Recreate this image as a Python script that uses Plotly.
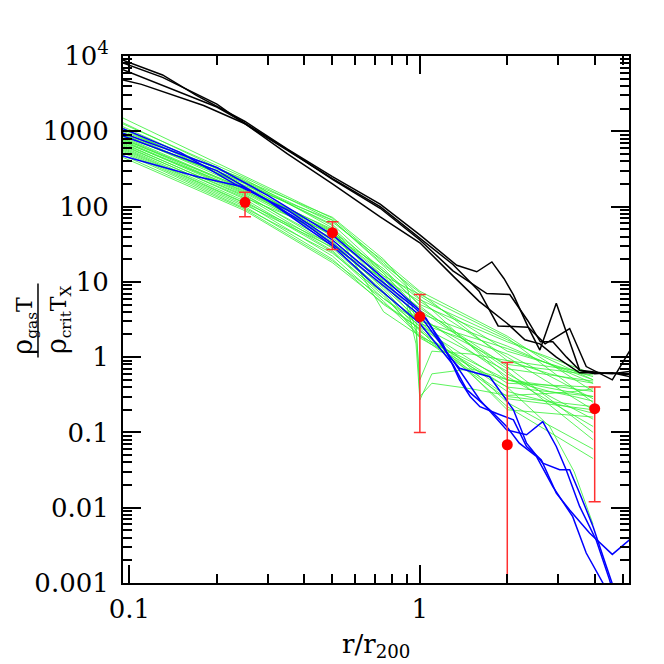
import plotly.graph_objects as go

# Perfis em preto (4)
BLACK_X = [
    [0.095, 0.13, 0.17, 0.25, 0.35, 0.5, 0.73, 1.0, 1.34, 1.57, 1.77, 1.95, 2.1, 2.36, 2.59, 2.95, 3.55, 4.2, 5.3],
    [0.095, 0.13, 0.2, 0.25, 0.35, 0.5, 0.73, 1.0, 1.3, 1.6, 1.86, 2.36, 2.7, 3.28, 3.74, 4.6, 5.3],
    [0.095, 0.15, 0.2, 0.25, 0.35, 0.5, 0.73, 1.0, 1.3, 1.7, 2.04, 2.36, 2.6, 2.87, 3.2, 3.55, 4.0, 4.6, 5.3],
    [0.095, 0.11, 0.18, 0.25, 0.35, 0.5, 0.73, 1.0, 1.3, 1.6, 2.0, 2.3, 2.59, 2.95, 3.55, 4.0, 4.6, 5.3],
]
BLACK_Y = [
    [8800, 5600, 3000, 1350, 580, 250, 108, 42, 16.6, 13.6, 18.4, 11, 6.7, 2.5, 1.24, 5.2, 0.67, 0.62, 0.6],
    [8100, 5200, 2300, 1250, 560, 235, 100, 38, 17, 7.5, 2.6, 2.5, 1.5, 2.4, 0.75, 0.5, 1.24],
    [6600, 3300, 2100, 1280, 570, 230, 95, 36, 14, 7, 6.8, 3.0, 1.6, 1.6, 1.0, 0.67, 0.6, 0.62, 0.55],
    [4800, 4200, 2200, 1260, 500, 200, 73, 33, 12, 5.5, 2.8, 1.7, 1.5, 1.0, 0.62, 0.62, 0.6, 0.65],
]

# Perfis em azul (4)
BLUE_X = [
    [0.095, 0.15, 0.23, 0.35, 0.5, 0.7, 0.95, 1.05, 1.24, 1.37, 1.74, 2.1, 2.33, 2.65, 3.03, 3.28, 3.55, 3.95, 4.38, 4.6, 4.8],
    [0.095, 0.2, 0.3, 0.5, 0.7, 1.0, 1.2, 1.37, 1.49, 1.61, 1.83, 2.1, 2.33, 2.62, 2.95, 3.28, 3.84, 4.6, 5.3],
    [0.095, 0.2, 0.3, 0.5, 0.7, 1.0, 1.3, 1.45, 1.74, 1.99, 2.2, 2.52, 2.87, 3.36, 3.74, 4.27, 4.5],
    [0.095, 0.173, 0.247, 0.3, 0.4, 0.5, 0.7, 1.0, 1.3, 1.61, 1.99, 2.33, 2.65, 2.95, 3.19, 3.55, 4.05, 4.5, 4.7],
]
BLUE_Y = [
    [1080, 520, 200, 90, 36, 12, 4.7, 3.3, 1.12, 0.71, 0.55, 0.2, 0.072, 0.039, 0.032, 0.032, 0.0156, 0.0056, 0.0017, 0.001, 0.0006],
    [940, 330, 140, 42, 14, 4.2, 1.5, 0.5, 0.3, 0.22, 0.18, 0.147, 0.065, 0.043, 0.0156, 0.0093, 0.0046, 0.0024, 0.0038],
    [870, 300, 120, 30, 9, 2.8, 0.8, 0.37, 0.2, 0.12, 0.072, 0.048, 0.019, 0.0076, 0.0025, 0.001, 0.0006],
    [470, 247, 182, 120, 60, 32, 11, 3.6, 0.9, 0.27, 0.108, 0.093, 0.139, 0.065, 0.032, 0.0104, 0.0037, 0.0011, 0.0006],
]

# Perfis em verde, no mesmo conjunto de raios
GREEN_X = [0.095, 0.25, 0.5, 0.75, 1.0, 2.0, 3.95]
GREEN_Y = [
    [1500, 250, 70, 18, 6.5, 1.2, 0.55],
    [1250, 240, 66, 17, 7.2, 0.9, 0.62],
    [1150, 215, 62, 19, 7.5, 1.9, 0.35],
    [1050, 205, 58, 14, 5.0, 1.6, 0.6],
    [1000, 230, 52, 13, 4.2, 0.7, 0.48],
    [960, 190, 66, 16, 6.0, 0.5, 0.3],
    [920, 180, 45, 12, 3.8, 1.4, 0.45],
    [880, 200, 40, 11, 5.5, 1.0, 0.2],
    [850, 170, 50, 10, 3.2, 0.8, 0.58],
    [820, 165, 36, 9.5, 2.8, 1.1, 0.28],
    [800, 155, 42, 15, 4.8, 0.6, 0.15],
    [780, 175, 34, 8, 2.5, 0.45, 0.4],
    [760, 150, 38, 12, 6.8, 1.8, 0.25],
    [740, 145, 30, 7.5, 2.2, 0.35, 0.18],
    [720, 160, 47, 9, 3.5, 0.55, 0.12],
    [700, 135, 28, 7, 3.0, 1.3, 0.5],
    [680, 140, 33, 10.5, 4.5, 0.75, 0.1],
    [660, 125, 26, 6.5, 2.0, 0.3, 0.22],
    [620, 118, 25, 6, 2.6, 0.65, 0.08],
    [600, 112, 31, 8.5, 3.0, 0.25, 0.06],
    [580, 110, 22, 5.5, 1.9, 0.5, 0.35],
    [540, 100, 20, 5, 2.4, 0.22, 0.045],
    [520, 95, 24, 7, 1.8, 0.4, 0.3],
    [480, 92, 19, 6, 2.9, 0.2, 0.16],
    [900, 210, 56, 4, 1.9, 0.28, 0.2],
    [1100, 185, 48, 14, 5.8, 1.7, 0.5],
]

# Perfis em verde com queda brusca (raios mais finos)
GREEN_EXTRA_X = [0.095, 0.25, 0.5, 0.75, 0.9, 0.97, 1.0, 1.1, 1.5, 2.0, 2.8, 3.4, 3.95]
GREEN_EXTRA_Y = [
    [1300, 220, 72, 20, 9, 3, 0.3, 0.45, 0.38, 0.31, 0.33, 0.35, 0.38],
    [640, 130, 44, 13, 6, 2.2, 0.5, 1.2, 1.1, 0.9, 0.6, 0.5, 0.45],
    [560, 105, 29, 11, 5, 1.5, 0.27, 0.6, 0.7, 0.5, 0.35, 0.3, 0.26],
    [450, 88, 18, 5.2, 3.2, 2.6, 2.3, 1.6, 0.8, 0.4, 0.12, 0.03, 0.006],
]

# Pontos observacionais com barras de erro
OBS_X = [0.25, 0.5, 1.0, 2.0, 4.0]
OBS_Y = [114, 45, 3.45, 0.0686, 0.207]
OBS_ERR = [41, 18, 3.35, 0.78, 0.195]

Y_TICKS = [0.001, 0.01, 0.1, 1, 10, 100, 1000, 10000]
Y_TICKTEXT = ['0.001', '0.01', '0.1', '1', '10', '100', '1000', '10<sup>4</sup>']
X_TICKS = [0.1, 1]
X_TICKTEXT = ['0.1', '1']
X_MINOR = [0.2, 0.3, 0.4, 0.5, 0.6, 0.7, 0.8, 0.9, 2, 3, 4, 5]
Y_MINOR = [m * 10.0 ** e for e in range(-3, 4) for m in range(2, 10)]

FONTE = 'DejaVu Serif'
VERDE = 'rgb(50,240,50)'

fig = go.Figure()

for ys in GREEN_Y:
    fig.add_trace(go.Scatter(x=GREEN_X, y=ys, mode='lines',
                             line=dict(color=VERDE, width=0.8),
                             hoverinfo='skip', showlegend=False))
for ys in GREEN_EXTRA_Y:
    fig.add_trace(go.Scatter(x=GREEN_EXTRA_X, y=ys, mode='lines',
                             line=dict(color=VERDE, width=0.8),
                             hoverinfo='skip', showlegend=False))

for xs, ys in zip(BLUE_X, BLUE_Y):
    fig.add_trace(go.Scatter(x=xs, y=ys, mode='lines',
                             line=dict(color='#0000ff', width=1.5),
                             hoverinfo='skip', showlegend=False))

for xs, ys in zip(BLACK_X, BLACK_Y):
    fig.add_trace(go.Scatter(x=xs, y=ys, mode='lines',
                             line=dict(color='#000000', width=1.5),
                             hoverinfo='skip', showlegend=False))

fig.add_trace(go.Scatter(
    x=OBS_X, y=OBS_Y, mode='markers',
    marker=dict(color='#ff0000', size=11),
    error_y=dict(type='data', array=OBS_ERR, symmetric=True,
                 color='#ff3030', thickness=1.5, width=6),
    showlegend=False,
))

eixo = dict(
    type='log',
    showline=True, linecolor='black', linewidth=2,
    mirror='allticks',
    ticks='inside', ticklen=18, tickwidth=1.5, tickcolor='black',
    showgrid=False, zeroline=False,
    tickfont=dict(family=FONTE, size=26, color='black'),
)

# a página tem 8px de margem no body
fig.update_layout(
    width=656, height=656,
    margin=dict(l=115, r=35, t=48, b=81),
    paper_bgcolor='white', plot_bgcolor='white',
    font=dict(family=FONTE, color='black'),
    xaxis=dict(eixo, range=[-1.0223, 0.7202],
               tickmode='array', tickvals=X_TICKS, ticktext=X_TICKTEXT,
               ticklabelstandoff=2,
               minor=dict(tickmode='array', tickvals=X_MINOR, ticks='inside',
                          ticklen=9, tickwidth=1.5, tickcolor='black', showgrid=False)),
    yaxis=dict(eixo, range=[-3, 4],
               tickmode='array', tickvals=Y_TICKS, ticktext=Y_TICKTEXT,
               ticklabelstandoff=7,
               minor=dict(tickmode='array', tickvals=Y_MINOR, ticks='inside',
                          ticklen=9, tickwidth=1.5, tickcolor='black', showgrid=False)),
)

# Título do eixo x
fig.add_annotation(text='r/r<sub>200</sub>', xref='paper', yref='paper',
                   x=0.5, y=-0.118, xanchor='center', yanchor='middle',
                   showarrow=False, font=dict(family=FONTE, size=26, color='black'))

# Título do eixo y em forma de fração
RHO = '<span style="font-size:27px">ρ</span>'
fig.add_annotation(text=RHO + '<sub>gas</sub>T', xref='paper', yref='paper',
                   x=-0.195, y=0.43, xanchor='center', yanchor='bottom',
                   textangle=-90, showarrow=False,
                   font=dict(family=FONTE, size=22, color='black'))
fig.add_annotation(text=RHO + '<sub>crit</sub>T<sub>X</sub>', xref='paper', yref='paper',
                   x=-0.128, y=0.43, xanchor='center', yanchor='bottom',
                   textangle=-90, showarrow=False,
                   font=dict(family=FONTE, size=22, color='black'))
fig.add_shape(type='line', xref='paper', yref='paper',
              x0=-0.168, x1=-0.168, y0=0.428, y1=0.5685,
              line=dict(color='black', width=1.5))

fig.write_html("out.html")
